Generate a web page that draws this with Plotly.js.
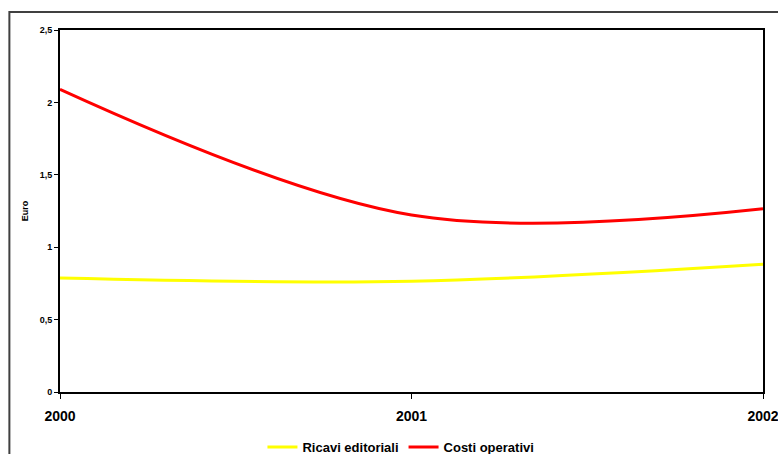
<!DOCTYPE html>
<html>
<head>
<meta charset="utf-8">
<script src="https://cdn.plot.ly/plotly-3.0.1.min.js"></script>
<style>html,body{margin:0;padding:0;background:#fff;}#chart{width:778px;height:454px;}</style>
</head>
<body>
<div id="chart"></div>
<script>
var years = [2000, 2001, 2002];
var ricaviEditoriali = [0.787, 0.765, 0.882];
var costiOperativi = [2.09, 1.222, 1.265];
var seriesNames = ['Ricavi editoriali', 'Costi operativi'];
var yTicks = [0, 0.5, 1, 1.5, 2, 2.5];
var yTickLabels = ['0', '0,5', '1', '1,5', '2', '2,5'];

var font = 'Liberation Sans, Arial, sans-serif';
function b(s) { return '<b>' + s + '</b>'; }
var traces = [
  {x: years, y: ricaviEditoriali, name: b(seriesNames[0]), type: 'scatter', mode: 'lines',
   line: {color: '#FFFF00', width: 3, shape: 'spline', smoothing: 1}},
  {x: years, y: costiOperativi, name: b(seriesNames[1]), type: 'scatter', mode: 'lines',
   line: {color: '#FF0000', width: 3, shape: 'spline', smoothing: 1}}
];
var layout = {
  width: 778, height: 454,
  margin: {l: 60, r: 15, t: 30, b: 62, autoexpand: false},
  paper_bgcolor: '#fff', plot_bgcolor: '#fff',
  showlegend: true,
  legend: {orientation: 'h', x: 0.485, xanchor: 'center', y: -0.152, yanchor: 'middle',
           font: {family: font, size: 13, color: '#000'}, itemwidth: 30, tracegroupgap: 0},
  xaxis: {range: [2000, 2002], tickvals: years, ticktext: years.map(function (v) { return b(v); }),
          showgrid: false, zeroline: false, showline: true, linecolor: '#000', linewidth: 2, mirror: true,
          ticks: 'outside', ticklen: 5, tickcolor: '#000', tickwidth: 1, ticklabelstandoff: 5,
          ticklabeloverflow: 'allow',
          tickfont: {family: font, size: 14, color: '#000'}},
  yaxis: {range: [0, 2.5], tickvals: yTicks, ticktext: yTickLabels.map(b), showgrid: false, zeroline: false,
          showline: true, linecolor: '#000', linewidth: 2, mirror: true,
          ticks: 'outside', ticklen: 4, tickcolor: '#000', tickwidth: 1,
          tickfont: {family: font, size: 9, color: '#000'},
          title: {text: b('Euro'), font: {family: font, size: 9, color: '#000'}, standoff: 10}},
  shapes: [{type: 'rect', xref: 'paper', yref: 'paper', x0: -0.072, x1: 1.1, y0: -0.4, y1: 1.05,
            line: {color: '#404040', width: 2}, fillcolor: 'rgba(0,0,0,0)', layer: 'below'}]
};
Plotly.newPlot('chart', traces, layout, {displayModeBar: false, staticPlot: true});
</script>
</body>
</html>
